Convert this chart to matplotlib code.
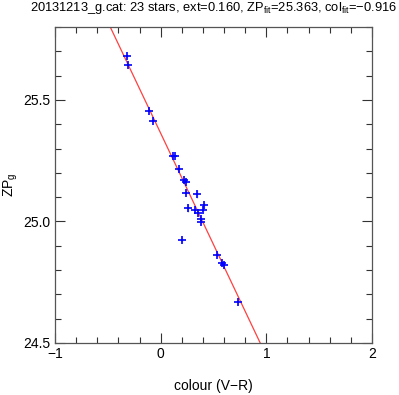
import matplotlib
matplotlib.use("Agg")
import matplotlib.pyplot as plt
from matplotlib.ticker import MultipleLocator
import numpy as np

plt.rcParams['font.family'] = ['Liberation Sans', 'DejaVu Sans']

colour = [-0.321, -0.306, -0.113, -0.070, 0.112, 0.136, 0.176, 0.224, 0.237, 0.243,
          0.347, 0.256, 0.328, 0.356, 0.413, 0.398, 0.382, 0.385, 0.202, 0.530,
          0.583, 0.602, 0.735]
zp = [25.680, 25.644, 25.455, 25.414, 25.270, 25.270, 25.217, 25.171, 25.164, 25.119,
      25.113, 25.054, 25.049, 25.036, 25.067, 25.046, 25.010, 24.997, 24.924, 24.861,
      24.830, 24.821, 24.667]
zp_err = [0.006, 0.006, 0.005, 0.005, 0.006, 0.005, 0.005, 0.006, 0.005, 0.006,
          0.016, 0.016, 0.008, 0.008, 0.014, 0.008, 0.008, 0.008, 0.008, 0.006,
          0.006, 0.006, 0.008]
zp_fit = 25.363
col_fit = -0.916
ext = 0.160
n_stars = 23

fig = plt.figure(figsize=(3.99, 3.95), dpi=100)
ax = fig.add_axes([55/399, 1-343/395, (372-55)/399, (343-27)/395])

xx = np.array([-1.0, 2.0])
ax.plot(xx, zp_fit + col_fit*xx, color='#ff4040', lw=0.9, zorder=2)
ax.errorbar(colour, zp, yerr=zp_err, fmt='none', ecolor='#c0c0c0', elinewidth=1.0, zorder=3)
ax.plot(colour, zp, '+', color='#0000ff', ms=5.5, mew=1.2, zorder=4)

ax.set_xlim(-1, 2)
ax.set_ylim(24.5, 25.8)
ax.xaxis.set_major_locator(MultipleLocator(1))
ax.xaxis.set_minor_locator(MultipleLocator(0.2))
ax.yaxis.set_major_locator(MultipleLocator(0.5))
ax.yaxis.set_minor_locator(MultipleLocator(0.1))
ax.yaxis.set_major_formatter(matplotlib.ticker.FormatStrFormatter('%.1f'))
ax.xaxis.set_major_formatter(matplotlib.ticker.FuncFormatter(lambda v, p: ('%d' % v).replace('-', '\u2212')))
ax.tick_params(which='both', direction='in', top=True, right=True, colors='#333333',
               labelcolor='black', labelsize=10, pad=3)
ax.tick_params(which='major', length=7, width=0.8)
ax.tick_params(which='minor', length=4, width=0.8)
for s in ax.spines.values():
    s.set_color('#555555')
    s.set_linewidth(0.9)

ax.set_xlabel('colour (V\u2212R)', fontsize=10, labelpad=13)
ax.set_ylabel('ZP$_\\mathregular{g}$', fontsize=10)
ax.yaxis.set_label_coords(-0.11, 0.5)
fig.text(214/399, 1-11/395,
         '20131213_g.cat: %d stars, ext=%.3f, ZP$_\\mathregular{fit}$=%.3f, col$_\\mathregular{fit}$=\u2212%.3f'
         % (n_stars, ext, zp_fit, abs(col_fit)), fontsize=9.25, ha='center', va='baseline')

fig.savefig('out.png', dpi=100)
